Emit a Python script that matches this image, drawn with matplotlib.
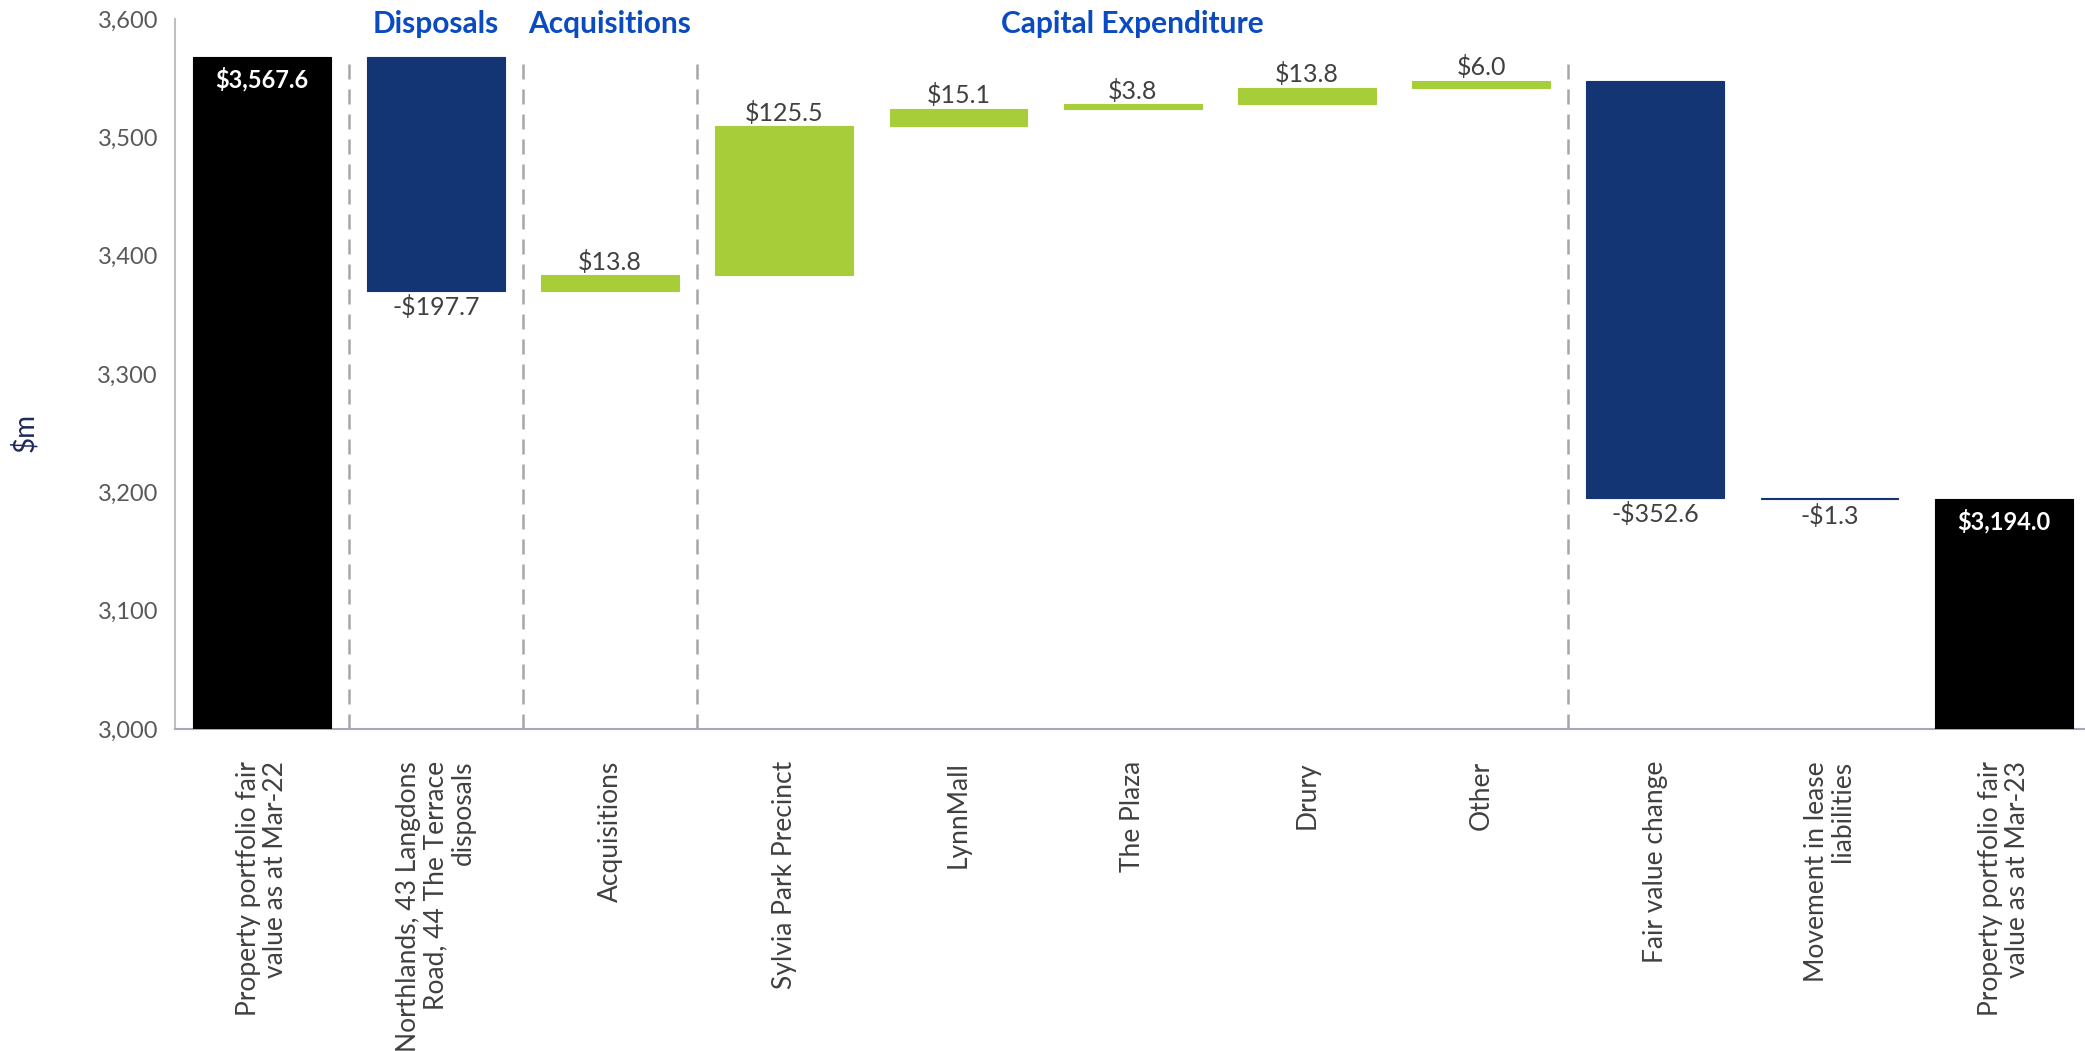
import matplotlib
matplotlib.use("Agg")
import matplotlib.pyplot as plt
import numpy as np

plt.rcParams['font.family'] = ['Lato', 'DejaVu Sans']

categories = [
    "Property portfolio fair\nvalue as at Mar-22",
    "Northlands, 43 Langdons\nRoad, 44 The Terrace\ndisposals",
    "Acquisitions",
    "Sylvia Park Precinct",
    "LynnMall",
    "The Plaza",
    "Drury",
    "Other",
    "Fair value change",
    "Movement in lease\nliabilities",
    "Property portfolio fair\nvalue as at Mar-23",
]
values = [3567.6, -197.7, 13.8, 125.5, 15.1, 3.8, 13.8, 6.0, -352.6, -1.3, 3194.0]
is_total = [True, False, False, False, False, False, False, False, False, False, True]

group_names = ["Disposals", "Acquisitions", "Capital Expenditure"]
group_first = [1, 2, 3]
group_last = [1, 2, 7]
separators_after = [0, 1, 2, 7]

y_min, y_max, y_step = 3000, 3600, 100

C_TOTAL = "#000000"
C_NEG = "#143574"
C_POS = "#A7CE39"
C_HEAD = "#0A4BC2"
C_TEXT = "#404040"
C_TICK = "#595959"

W, H = 2085, 1051
fig = plt.figure(figsize=(W / 100, H / 100), dpi=100)
ax = fig.add_axes([174.6 / W, 1 - 729 / H, 11 * 174.2 / W, (729 - 19) / H])

x = np.arange(len(values))
bottoms, heights, colors = [], [], []
running = 0.0
for v, t in zip(values, is_total):
    if t:
        bottoms.append(y_min)
        heights.append(v - y_min)
        colors.append(C_TOTAL)
        running = v
    else:
        new = running + v
        bottoms.append(min(running, new))
        heights.append(abs(v))
        colors.append(C_POS if v > 0 else C_NEG)
        running = new

ax.bar(x, heights, bottom=bottoms, width=0.79, color=colors,
       edgecolor=colors, linewidth=0.8, zorder=3)

def fmt(v):
    s = f"${abs(v):,.1f}"
    return "-" + s if v < 0 else s

for xi, v, t, b, h in zip(x, values, is_total, bottoms, heights):
    if t:
        ax.annotate(fmt(v), (xi, b + h), xytext=(0, -7), textcoords="offset points",
                    ha="center", va="top", color="white", fontsize=17,
                    fontweight="bold", zorder=5)
    elif v > 0:
        ax.annotate(fmt(v), (xi, b + h), xytext=(0, 1), textcoords="offset points",
                    ha="center", va="bottom", color=C_TEXT, fontsize=18, zorder=5)
    else:
        ax.annotate(fmt(v), (xi, b), xytext=(0, -3), textcoords="offset points",
                    ha="center", va="top", color=C_TEXT, fontsize=18, zorder=5)

for s in separators_after:
    ax.plot([s + 0.5, s + 0.5], [y_min, 3562], color="#A6A6A6", lw=1.8,
            dashes=(6, 4), zorder=2, clip_on=False)

for name, a, b in zip(group_names, group_first, group_last):
    ax.text((a + b) / 2, 3588, name, ha="center", va="baseline", color=C_HEAD,
            fontsize=21.5, fontweight="bold", clip_on=False)

ax.set_xlim(-0.5, len(values) - 0.5)
ax.set_ylim(y_min, y_max)
yt = np.arange(y_min, y_max + 1, y_step)
ax.set_yticks(yt)
ax.set_yticklabels([f"{v:,.0f}" for v in yt], color=C_TICK, fontsize=17)
ax.set_xticks(x)
ax.set_xticklabels(categories, rotation=90, ha="center", va="top",
                   color=C_TEXT, fontsize=19, linespacing=1.1)
for lab in ax.get_xticklabels():
    lab.set_multialignment("right")
ax.tick_params(axis="x", length=0, pad=23)
ax.tick_params(axis="y", length=0, pad=12)

for side in ["top", "right"]:
    ax.spines[side].set_visible(False)
ax.spines["left"].set_color("#BFBFBF")
ax.spines["left"].set_linewidth(1.5)
ax.spines["bottom"].set_color("#A6A6BF")
ax.spines["bottom"].set_linewidth(1.5)

fig.text(24 / W, 1 - 432 / H, "$m", rotation=90, ha="center", va="center",
         color="#1F2A5C", fontsize=20)

fig.savefig("out.png", dpi=100)
